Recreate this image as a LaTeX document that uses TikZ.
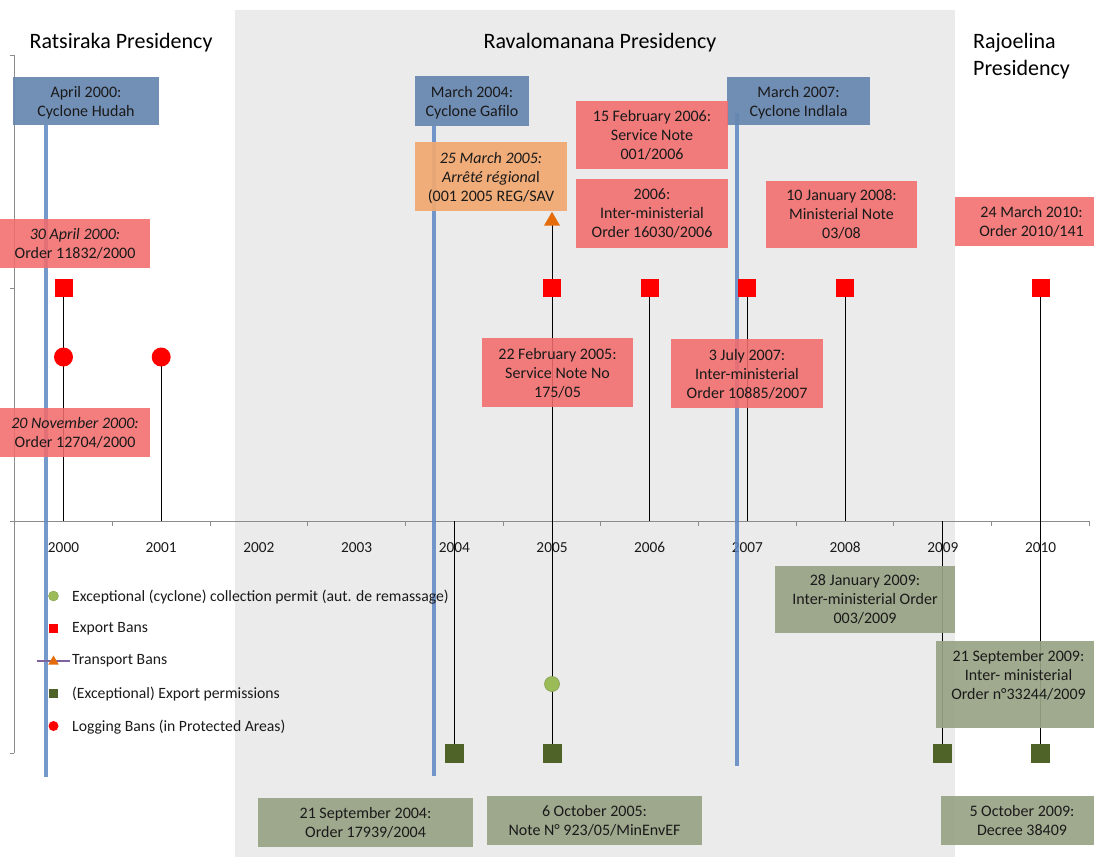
\documentclass[tikz,border=0pt]{standalone}
\usepackage{fontspec}
\setmainfont{Carlito}
\usetikzlibrary{shapes.geometric,backgrounds}
\definecolor{bgray}{HTML}{EBEBEB}
\definecolor{cycboxc}{HTML}{6686B0}
\definecolor{cyclinec}{HTML}{5C87C2}
\definecolor{redboxc}{HTML}{F26B6B}
\definecolor{oraboxc}{HTML}{F2A870}
\definecolor{grnboxc}{HTML}{98A385}
\definecolor{dkgreen}{HTML}{4F6228}
\definecolor{ltgreen}{HTML}{9BBB59}
\definecolor{oratri}{HTML}{E46C0A}
\definecolor{purp}{HTML}{7F63A0}
\definecolor{axisgray}{HTML}{8C8C8C}
\definecolor{txt}{HTML}{1A1A1A}
\tikzset{
  boxtext/.style={inner sep=0pt, align=center, text=txt, font=\fontsize{16}{19}\selectfont},
  box/.style={boxtext, rectangle, text depth=0pt},
  cycb/.style={box, fill=cycboxc, fill opacity=0.92, text opacity=1},
  redb/.style={box, fill=redboxc, fill opacity=0.88, text opacity=1},
  orab/.style={box, fill=oraboxc, fill opacity=0.92, text opacity=1},
  grnb/.style={box, fill=grnboxc, fill opacity=0.92, text opacity=1},
  exban/.style={rectangle, fill=red, minimum size=18pt, inner sep=0pt},
  logban/.style={circle, fill=red, minimum size=19pt, inner sep=0pt},
  experm/.style={rectangle, fill=dkgreen, minimum size=19pt, inner sep=0pt},
  colperm/.style={circle, fill=ltgreen, draw=ltgreen!85!black, line width=0.6pt, minimum size=15pt, inner sep=0pt},
  trban/.style={regular polygon, regular polygon sides=3, fill=oratri, minimum size=18.5pt, inner sep=0pt},
  stem/.style={draw=black, line width=0.9pt},
  cycline/.style={draw=cyclinec, line width=4pt, opacity=0.85},
  axisline/.style={draw=axisgray, line width=1pt},
  yearlab/.style={inner sep=0pt, anchor=base, text=txt, font=\fontsize{15.3}{18}\selectfont},
  legtext/.style={inner sep=0pt, anchor=west, text=txt, font=\fontsize{15.7}{18}\selectfont},
  titletext/.style={inner sep=0pt, text=black, font=\fontsize{22}{27}\selectfont},
}
\begin{document}
\begin{tikzpicture}[x=1pt,y=-1pt]
\useasboundingbox (0,0) rectangle (1094,857);

% ---------- presidency titles
\node[titletext] (ratsiraka) at (121,43) {Ratsiraka Presidency};
\node[titletext] (ravalo) at (600,43) {Ravalomanana Presidency};
\node[titletext, align=left, anchor=north west] (rajoelina) at (973,33.5) {Rajoelina\\Presidency};

% ---------- coordinates on the axis
\foreach \yr/\xx in {2000/63.5,2001/161.2,2002/258.9,2003/356.6,2004/454.3,2005/552,2006/649.7,2007/747.4,2008/845.1,2009/942.8,2010/1040.5}{
  \coordinate (ax\yr) at (\xx,521);
}

% ---------- markers
\node[exban] (eb2000) at (63.5,288) {};
\node[exban] (eb2005) at (552,288) {};
\node[exban] (eb2006) at (649.7,288) {};
\node[exban] (eb2007) at (747.4,288) {};
\node[exban] (eb2008) at (845.1,288) {};
\node[exban] (eb2010) at (1040.5,288) {};
\node[logban] (lb2000) at (63.5,357) {};
\node[logban] (lb2001) at (161.2,357) {};
\node[trban] (tb2005) at (552,221) {};
\node[colperm] (cp2005) at (552,684) {};
\node[experm] (ep2004) at (454.3,753) {};
\node[experm] (ep2005) at (552,753) {};
\node[experm] (ep2009) at (942.8,753) {};
\node[experm] (ep2010) at (1040.5,753) {};

% ---------- cyclone boxes
\node[cycb, minimum width=146pt, minimum height=48pt] (hudah) at (86,101) {April 2000:\\Cyclone Hudah};
\node[cycb, minimum width=114pt, minimum height=50pt] (gafilo) at (472,101) {March 2004:\\Cyclone Gafilo};
\node[cycb, minimum width=143pt, minimum height=48pt] (indlala) at (798.5,101) {March 2007:\\Cyclone Indlala};

% ---------- export / logging ban boxes
\node[redb, minimum width=150pt, minimum height=49pt] (r2000a) at (75,243.5) {\textit{30 April 2000:}\\Order 11832/2000};
\node[redb, minimum width=150pt, minimum height=49pt] (r2000b) at (75,432.5) {\textit{20 November 2000:}\\Order 12704/2000};
\node[redb, minimum width=152pt, minimum height=68pt] (r2006a) at (652,135) {15 February 2006:\\Service Note\\001/2006};
\node[redb, minimum width=152pt, minimum height=69pt] (r2006b) at (652,213.5) {2006:\\Inter-ministerial\\Order 16030/2006};
\node[orab, minimum width=152pt, minimum height=69pt] (o2005) at (491,176.5) {\textit{25 March 2005:}\\\textit{Arrêté régiona}l\\(001 2005 REG/SAV};
\node[redb, minimum width=151pt, minimum height=67pt] (r2008) at (841.5,214.5) {10 January 2008:\\Ministerial Note\\03/08};
\node[redb, minimum width=153pt, minimum height=49pt] (r2010) at (1031.5,221.5) {24 March 2010:\\Order 2010/141};
\node[redb, minimum width=151pt, minimum height=69pt] (r2005) at (557.5,372.5) {22 February 2005:\\Service Note No\\175/05};
\node[redb, minimum width=152pt, minimum height=69pt] (r2007) at (747,373.5) {3 July 2007:\\Inter-ministerial\\Order 10885/2007};

% ---------- export permission boxes
\node[grnb, minimum width=180pt, minimum height=67pt] (g2009a) at (865,599.5) {28 January 2009:\\Inter-ministerial Order\\003/2009};
\node[grnb, minimum width=165pt, minimum height=87pt] (g2009b) at (1018.5,684.5) {};
\node[boxtext, anchor=north] (g2009bt) at ([yshift=-9pt]g2009b.north) {21 September 2009:\\Inter- ministerial\\Order n°33244/2009};
\node[grnb, minimum width=162pt, minimum height=49pt] (g2009c) at (1022,820.5) {5 October 2009:\\Decree 38409};
\node[grnb, minimum width=215pt, minimum height=49pt] (g2004) at (365.5,822.5) {21 September 2004:\\Order 17939/2004};
\node[grnb, minimum width=215pt, minimum height=49pt] (g2005) at (594.5,820.5) {6 October 2005:\\Note N° 923/05/MinEnvEF};

% ---------- legend
\coordinate (lgA) at (37,661);
\coordinate (lgB) at (70,661);
\draw[draw=purp, line width=2pt] (lgA) -- (lgB);
\node[colperm, minimum size=10pt, line width=0.4pt] (lm1) at (53.5,596) {};
\node[exban, minimum size=9pt] (lm2) at (53.5,628) {};
\node[trban, minimum size=12pt] (lm3) at (53.5,661.5) {};
\node[experm, minimum size=9pt] (lm4) at (53.5,693) {};
\node[logban, minimum size=10pt] (lm5) at (53.5,726) {};
\node[legtext] (lt1) at (72,597) {Exceptional (cyclone) collection permit (aut. de remassage)};
\node[legtext] (lt2) at (72,629) {Export Bans};
\node[legtext] (lt3) at (72,661) {Transport Bans};
\node[legtext] (lt4) at (72,694) {(Exceptional) Export permissions};
\node[legtext] (lt5) at (72,727) {Logging Bans (in Protected Areas)};

\begin{pgfonlayer}{background}
  % gray band of the Ravalomanana presidency
  \fill[bgray] (235,10) rectangle (955,857);
  % axes
  \draw[axisline] (14,55) -- (14,753);
  \foreach \yy in {55,288,521,753} { \draw[axisline] (10,\yy) -- (14,\yy); }
  \draw[axisline] (10,521) -- (1090,521);
  \foreach \i in {0,...,10} { \draw[axisline] ({112.35+97.7*\i},521) -- ({112.35+97.7*\i},526); }
  % year labels
  \foreach \yr/\xx in {2000/63.5,2001/161.2,2002/258.9,2003/356.6,2004/454.3,2005/552,2006/649.7,2007/747.4,2008/845.1,2009/942.8,2010/1040.5}{
    \node[yearlab] (yl\yr) at (\xx,552.5) {\yr};
  }
  % cyclone lines
  \coordinate (c1end) at (45.5,777);
  \coordinate (c2end) at (434,776);
  \coordinate (c3end) at (737,766);
  \draw[cycline] (hudah.south -| c1end) -- (c1end);
  \draw[cycline] (gafilo.south -| c2end) -- (c2end);
  \draw[cycline] ([yshift=12pt]indlala.south -| c3end) -- (c3end);
  % stems
  \draw[stem] (eb2000.center) -- (ax2000);
  \draw[stem] (lb2001.center) -- (ax2001);
  \draw[stem] (ax2004) -- (ep2004.center);
  \draw[stem] (tb2005.center) -- (ep2005.center);
  \draw[stem] (eb2006.center) -- (ax2006);
  \draw[stem] (eb2007.center) -- (ax2007);
  \draw[stem] (eb2008.center) -- (ax2008);
  \draw[stem] (ax2009) -- (ep2009.center);
  \draw[stem] (eb2010.center) -- (ep2010.center);
\end{pgfonlayer}
\end{tikzpicture}
\end{document}
